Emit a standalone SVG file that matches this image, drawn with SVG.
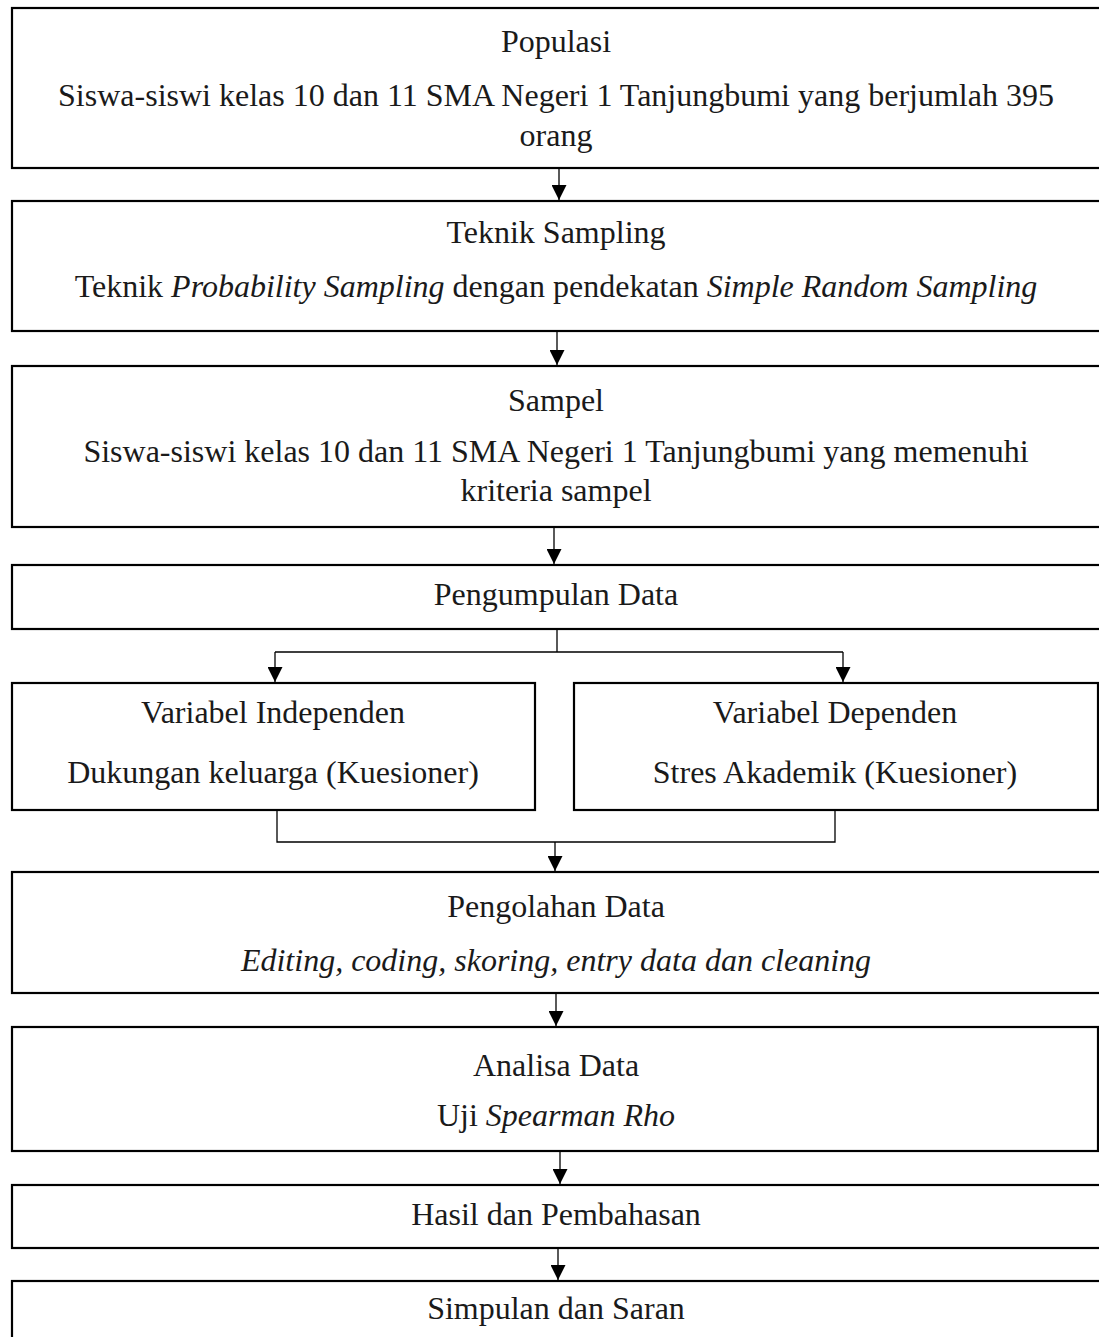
<svg xmlns="http://www.w3.org/2000/svg" width="1099" height="1337" viewBox="0 0 1099 1337">
<style>
.box{fill:#fff;stroke:#000;stroke-width:2.2}
.t{font-family:"Liberation Serif","Times New Roman",serif;font-size:32px;fill:#1a1a1a;text-anchor:middle}
.i{font-style:italic}
.c{fill:none;stroke:#000;stroke-width:1.3}
</style>
<defs>
<marker id="ah" markerUnits="userSpaceOnUse" markerWidth="15" markerHeight="15" viewBox="0 0 14 14" refX="14" refY="7" orient="auto">
<path d="M0,0 L14,7 L0,14 Z" fill="#000"/>
</marker>
</defs>
<rect width="1099" height="1337" fill="#fff"/>
<g id="connectors">
<line class="c" x1="559" y1="169" x2="559" y2="200" marker-end="url(#ah)"/>
<line class="c" x1="557" y1="332" x2="557" y2="365" marker-end="url(#ah)"/>
<line class="c" x1="554" y1="528" x2="554" y2="564" marker-end="url(#ah)"/>
<path class="c" d="M557,630 V652 M275,652 H843"/>
<line class="c" x1="275" y1="652" x2="275" y2="682" marker-end="url(#ah)"/>
<line class="c" x1="843" y1="652" x2="843" y2="682" marker-end="url(#ah)"/>
<path class="c" d="M277,811 V842 H835 V811"/>
<line class="c" x1="555" y1="842" x2="555" y2="871" marker-end="url(#ah)"/>
<line class="c" x1="556" y1="994" x2="556" y2="1026" marker-end="url(#ah)"/>
<line class="c" x1="560" y1="1152" x2="560" y2="1184" marker-end="url(#ah)"/>
<line class="c" x1="558" y1="1249" x2="558" y2="1280" marker-end="url(#ah)"/>
</g>
<g id="populasi">
<rect class="box" x="12" y="8" width="1100" height="160"/>
<text class="t" x="556" y="52">Populasi</text>
<text class="t" x="556" y="106">Siswa-siswi kelas 10 dan 11 SMA Negeri 1 Tanjungbumi yang berjumlah 395</text>
<text class="t" x="556" y="146">orang</text>
</g>
<g id="teknik-sampling">
<rect class="box" x="12" y="201" width="1100" height="130"/>
<text class="t" x="556" y="243">Teknik Sampling</text>
<text class="t" x="556" y="297">Teknik <tspan class="i">Probability Sampling</tspan> dengan pendekatan <tspan class="i">Simple Random Sampling</tspan></text>
</g>
<g id="sampel">
<rect class="box" x="12" y="366" width="1100" height="161"/>
<text class="t" x="556" y="411">Sampel</text>
<text class="t" x="556" y="462">Siswa-siswi kelas 10 dan 11 SMA Negeri 1 Tanjungbumi yang memenuhi</text>
<text class="t" x="556" y="501">kriteria sampel</text>
</g>
<g id="pengumpulan-data">
<rect class="box" x="12" y="565" width="1100" height="64"/>
<text class="t" x="556" y="605">Pengumpulan Data</text>
</g>
<g id="variabel-independen">
<rect class="box" x="12" y="683" width="523" height="127"/>
<text class="t" x="273" y="723">Variabel Independen</text>
<text class="t" x="273" y="783">Dukungan keluarga (Kuesioner)</text>
</g>
<g id="variabel-dependen">
<rect class="box" x="574" y="683" width="524" height="127"/>
<text class="t" x="835" y="723">Variabel Dependen</text>
<text class="t" x="835" y="783">Stres Akademik (Kuesioner)</text>
</g>
<g id="pengolahan-data">
<rect class="box" x="12" y="872" width="1100" height="121"/>
<text class="t" x="556" y="917">Pengolahan Data</text>
<text class="t i" x="556" y="971">Editing, coding, skoring, entry data dan cleaning</text>
</g>
<g id="analisa-data">
<rect class="box" x="12" y="1027" width="1086" height="124"/>
<text class="t" x="556" y="1076">Analisa Data</text>
<text class="t" x="556" y="1126">Uji <tspan class="i">Spearman Rho</tspan></text>
</g>
<g id="hasil">
<rect class="box" x="12" y="1185" width="1100" height="63"/>
<text class="t" x="556" y="1225">Hasil dan Pembahasan</text>
</g>
<g id="simpulan">
<rect class="box" x="12" y="1281" width="1100" height="80"/>
<text class="t" x="556" y="1319">Simpulan dan Saran</text>
</g>
</svg>
